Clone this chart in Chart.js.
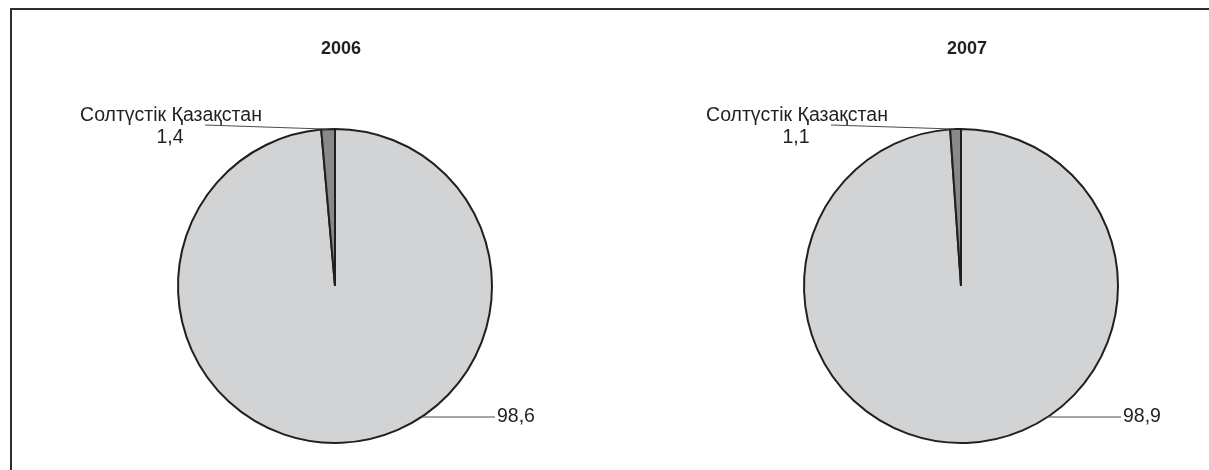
<!DOCTYPE html>
<html>
<head>
<meta charset="utf-8">
<script src="https://cdn.jsdelivr.net/npm/chart.js@4/dist/chart.umd.min.js"></script>
<style>
  body { margin: 0; background: #fff; }
  #wrap { position: relative; width: 1209px; height: 470px; overflow: hidden; }
  #frame { position: absolute; left: 10px; top: 8px; width: 1400px; height: 600px;
           border-top: 2px solid #2e2e2e; border-left: 2px solid #2e2e2e; }
  canvas { position: absolute; left: 0; top: 0; }
</style>
</head>
<body>
<div id="wrap">
  <div id="frame"></div>
  <canvas id="pie2006" width="1209" height="470"></canvas>
  <canvas id="pie2007" width="1209" height="470"></canvas>
</div>
<script>
// Доли региона, %
const years = ['2006', '2007'];
const regionName = 'Солтүстік Қазақстан';
const restShare = [98.6, 98.9];
const regionShare = [1.4, 1.1];

const FONT = '"Liberation Sans", Arial, sans-serif';
const fmt = v => v.toFixed(1).replace('.', ',');

// Подписи, выноски и заголовок над кругом
const pieLabels = {
  id: 'pieLabels',
  afterDatasetsDraw(chart, args, opts) {
    const ctx = chart.ctx;
    const arcs = chart.getDatasetMeta(0).data;
    const values = chart.data.datasets[0].data;
    const big = arcs[0], small = arcs[1];
    const cx = big.x, cy = big.y, r = big.outerRadius;

    ctx.save();
    // заголовок
    ctx.fillStyle = '#231f20';
    ctx.font = 'bold 18px ' + FONT;
    ctx.textAlign = 'center';
    ctx.textBaseline = 'alphabetic';
    ctx.fillText(opts.title, cx + 6, 54);

    ctx.strokeStyle = '#4a4a4a';
    ctx.lineWidth = 1;

    // маленький сектор: выноска к середине дуги
    const midS = (small.startAngle + small.endAngle) / 2;
    const sx = cx + Math.cos(midS) * r;
    const sy = cy + Math.sin(midS) * r;
    ctx.beginPath();
    ctx.moveTo(cx - 130, cy - 161);
    ctx.lineTo(sx, sy);
    ctx.stroke();

    ctx.font = '19.5px ' + FONT;
    ctx.fillStyle = '#231f20';
    ctx.textAlign = 'center';
    ctx.fillText(opts.name, cx - 164, cy - 165);
    ctx.fillText(fmt(values[1]), cx - 165, cy - 143);

    // большой сектор: выноска справа снизу
    const dy = 131;
    const bx = cx + Math.sqrt(r * r - dy * dy);
    const by = cy + dy;
    ctx.beginPath();
    ctx.moveTo(bx, by);
    ctx.lineTo(cx + 160, by);
    ctx.stroke();
    ctx.textAlign = 'left';
    ctx.textBaseline = 'middle';
    ctx.fillText(fmt(values[0]), cx + 162, by);
    ctx.restore();
  }
};

function makePie(canvasId, idx, centerX) {
  const R = 157, centerY = 286;
  return new Chart(document.getElementById(canvasId), {
    type: 'pie',
    data: {
      labels: ['', regionName],
      datasets: [{
        data: [restShare[idx], regionShare[idx]],
        backgroundColor: ['#d1d3d4', '#87898b'],
        borderColor: '#231f20',
        borderWidth: 2,
        radius: R
      }]
    },
    options: {
      responsive: false,
      animation: false,
      events: [],
      layout: {
        padding: {
          left: centerX - R,
          right: 1209 - (centerX + R),
          top: centerY - R,
          bottom: 470 - (centerY + R)
        }
      },
      plugins: {
        legend: { display: false },
        tooltip: { enabled: false },
        title: { display: false },
        pieLabels: { title: years[idx], name: regionName }
      }
    },
    plugins: [pieLabels]
  });
}

makePie('pie2006', 0, 335);
makePie('pie2007', 1, 961);
</script>
</body>
</html>
